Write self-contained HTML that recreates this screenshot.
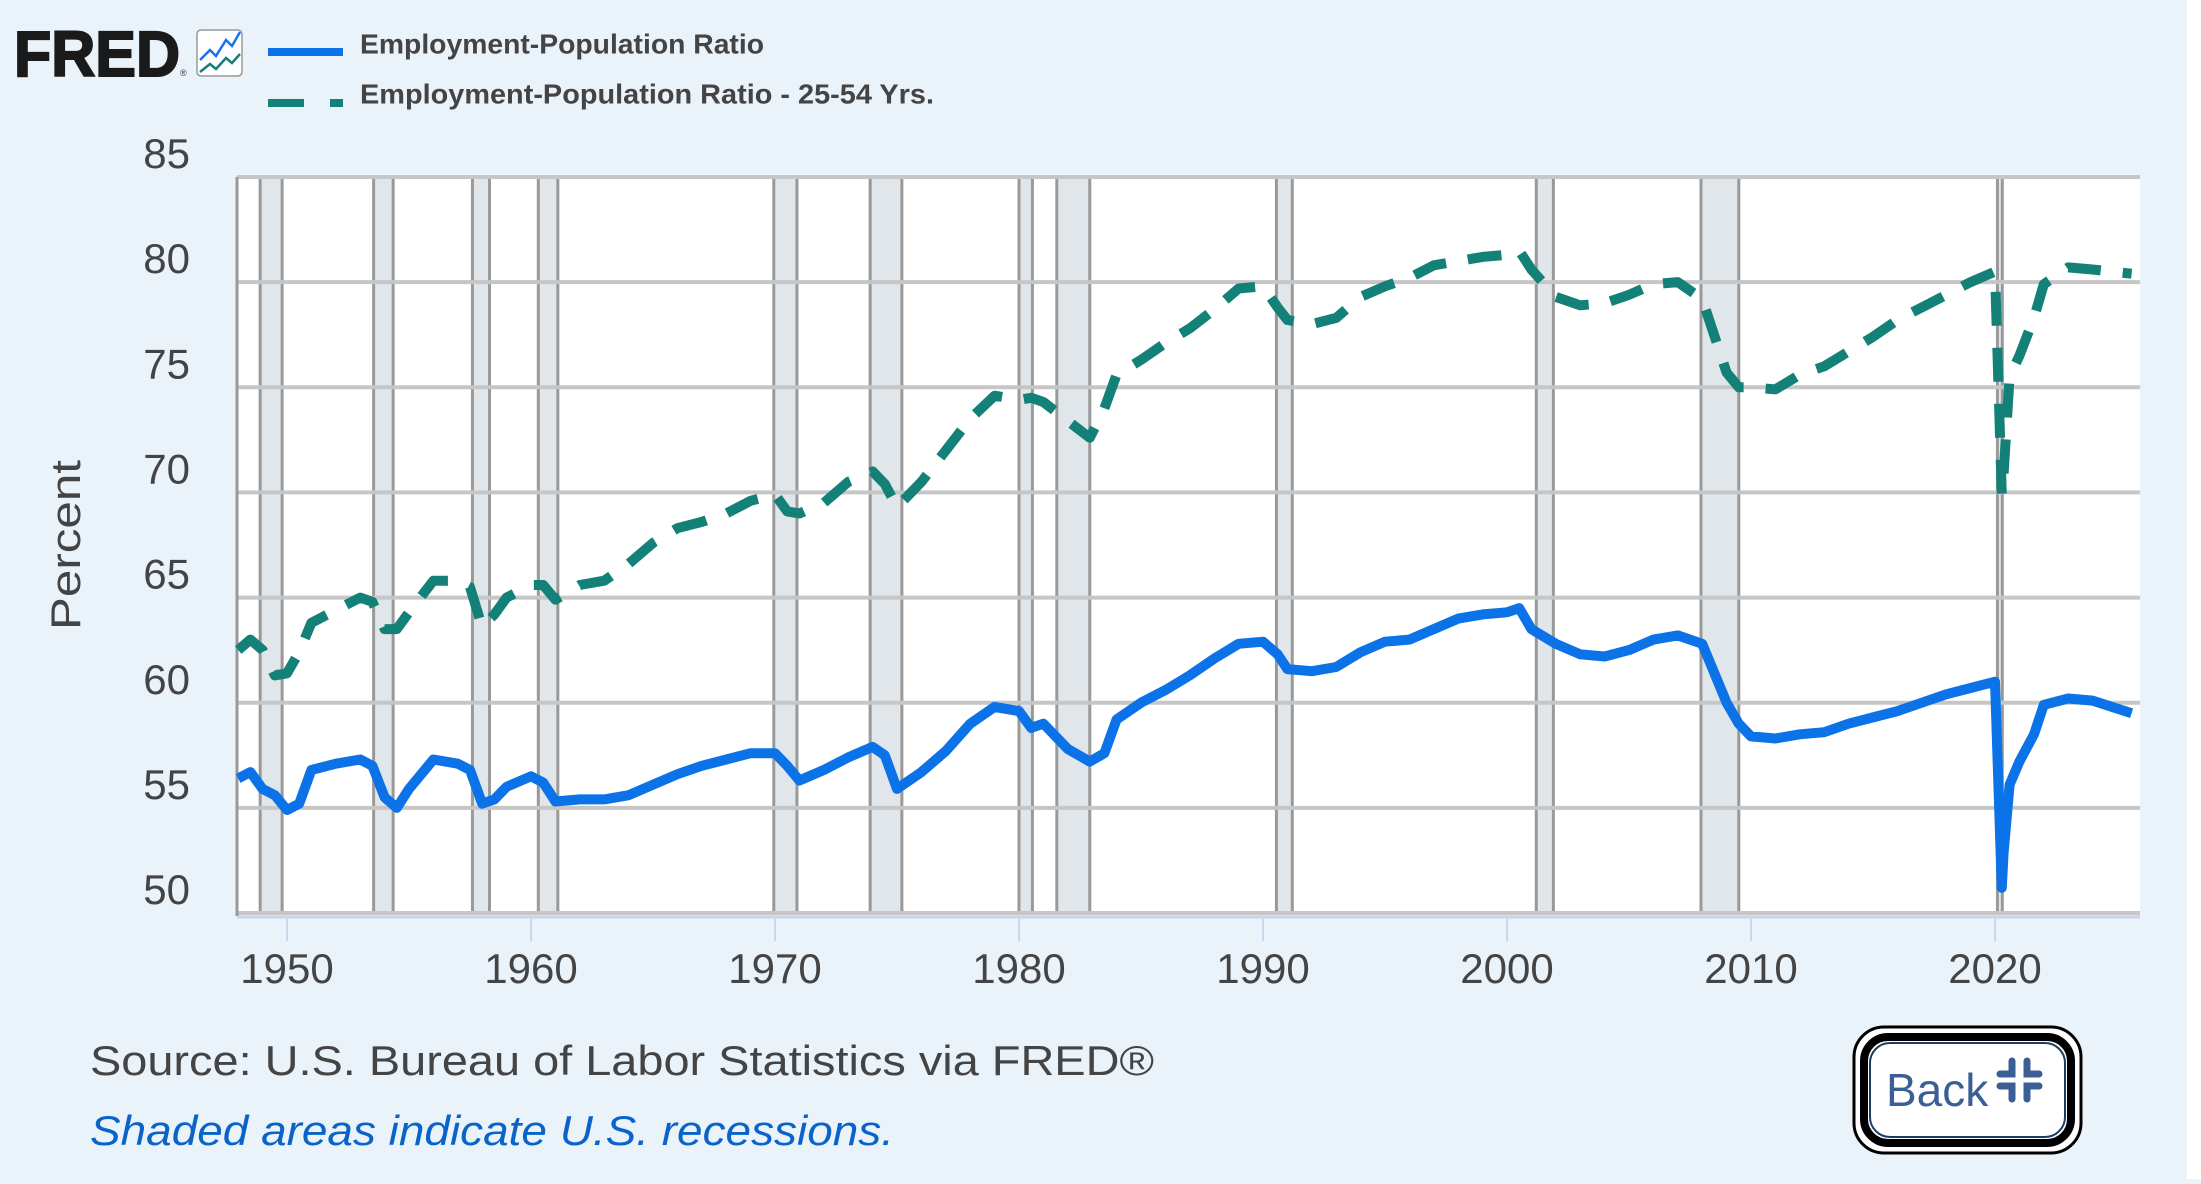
<!DOCTYPE html>
<html><head><meta charset="utf-8"><style>
html,body{margin:0;padding:0;background:#eaf2fa;}
body{width:2201px;height:1179px;position:relative;overflow:hidden;font-family:"Liberation Sans",sans-serif;}
</style></head><body>
<svg id="chart" width="2201" height="1179" viewBox="0 0 2201 1179" xmlns="http://www.w3.org/2000/svg">
<rect x="2187" y="0" width="14" height="1179" fill="#ffffff"/>
<g>
<text x="14" y="76" font-family="Liberation Sans, sans-serif" font-weight="bold" font-size="64" fill="#1a1a1a" textLength="166" lengthAdjust="spacingAndGlyphs" stroke="#1a1a1a" stroke-width="2">FRED</text>
<text x="180" y="76" font-size="9" fill="#333">®</text>
<rect x="197" y="30" width="45" height="46" rx="4" fill="#fff" stroke="#999" stroke-width="1.5"/>
<polyline points="200,60 210,50 216,56 226,40 232,46 240,32" fill="none" stroke="#1a73e8" stroke-width="2.5"/>
<polyline points="200,72 210,64 216,69 226,58 232,63 240,54" fill="none" stroke="#148178" stroke-width="2.5"/>
</g>
<g>
<line x1="268" y1="52" x2="343" y2="52" stroke="#0b72e7" stroke-width="8"/>
<text x="360" y="46" font-size="28" font-weight="bold" fill="#444" dominant-baseline="middle" textLength="404" lengthAdjust="spacingAndGlyphs">Employment-Population Ratio</text>
<line x1="268" y1="103" x2="343" y2="103" stroke="#148178" stroke-width="8" stroke-dasharray="36,26"/>
<text x="360" y="96" font-size="28" font-weight="bold" fill="#444" dominant-baseline="middle" textLength="574" lengthAdjust="spacingAndGlyphs">Employment-Population Ratio - 25-54 Yrs.</text>
</g>
<rect x="237" y="177" width="1903" height="738" fill="#ffffff"/>
<g id="rec"></g><g id="grid"></g><g id="axes"></g><g id="series"></g>
<text transform="translate(80,545) rotate(-90)" text-anchor="middle" font-size="42" fill="#444" textLength="170" lengthAdjust="spacingAndGlyphs">Percent</text>
<text x="90" y="1075" font-size="42" fill="#444" textLength="1064" lengthAdjust="spacingAndGlyphs">Source: U.S. Bureau of Labor Statistics via FRED®</text>
<text x="90" y="1145" font-size="42" font-style="italic" fill="#0a63c9" textLength="804" lengthAdjust="spacingAndGlyphs">Shaded areas indicate U.S. recessions.</text>
<g transform="translate(-12,-6)">
<rect x="1866" y="1033" width="227" height="126" rx="30" fill="#fff" stroke="#000" stroke-width="3"/>
<rect x="1876" y="1043" width="207" height="106" rx="24" fill="#fff" stroke="#000" stroke-width="8"/>
<rect x="1882" y="1049" width="195" height="94" rx="20" fill="none" stroke="#1d3c60" stroke-width="2"/>
<text x="1898" y="1112" font-size="46" fill="#3b5f94">Back</text>
<path d="M2024 1067 v13 h-12 M2039 1067 v13 h12 M2024 1105 v-13 h-12 M2039 1105 v-13 h12" fill="none" stroke="#3b5f94" stroke-width="7" stroke-linecap="round"/>
</g>
</svg>
<script>
const years=[1948,1948.5,1949,1949.5,1950,1950.5,1951,1952,1953,1953.5,1954,1954.5,1955,1956,1957,1957.5,1958,1958.5,1959,1960,1960.5,1961,1962,1963,1964,1965,1966,1967,1968,1969,1970,1970.5,1971,1972,1973,1974,1974.5,1975,1976,1977,1978,1979,1980,1980.5,1981,1982,1982.9,1983.5,1984,1985,1986,1987,1988,1989,1990,1990.6,1991,1992,1993,1994,1995,1996,1997,1998,1999,2000,2000.5,2001,2002,2003,2004,2005,2006,2007,2008,2009,2009.5,2010,2011,2012,2013,2014,2015,2016,2017,2018,2019,2020,2020.28,2020.35,2020.6,2021,2021.6,2022,2023,2024,2025.6];
const epop=[56.4,56.7,55.9,55.6,54.9,55.2,56.8,57.1,57.3,57.0,55.5,55.0,55.9,57.3,57.1,56.8,55.2,55.4,56.0,56.5,56.2,55.3,55.4,55.4,55.6,56.1,56.6,57.0,57.3,57.6,57.6,57.0,56.3,56.8,57.4,57.9,57.5,55.9,56.7,57.7,59.0,59.8,59.6,58.8,59.0,57.8,57.2,57.6,59.2,60.0,60.6,61.3,62.1,62.8,62.9,62.3,61.6,61.5,61.7,62.4,62.9,63.0,63.5,64.0,64.2,64.3,64.5,63.5,62.8,62.3,62.2,62.5,63.0,63.2,62.8,60.0,59.0,58.4,58.3,58.5,58.6,59.0,59.3,59.6,60.0,60.4,60.7,61.0,51.2,52.8,56.1,57.2,58.5,59.9,60.2,60.1,59.5];
const prime=[62.5,63.0,62.5,61.3,61.4,62.4,63.8,64.4,65.0,64.8,63.5,63.5,64.3,65.8,65.8,65.5,63.6,64.2,65.0,65.6,65.6,64.9,65.6,65.8,66.6,67.6,68.3,68.6,69.0,69.6,69.9,69.1,69.0,69.5,70.5,71.0,70.4,69.3,70.5,72.0,73.5,74.6,74.4,74.5,74.3,73.4,72.6,74.0,75.6,76.3,77.1,77.8,78.7,79.7,79.8,78.8,78.2,78.0,78.3,79.3,79.8,80.2,80.8,81.0,81.2,81.3,81.5,80.6,79.3,78.9,79.0,79.4,79.9,80.0,79.2,75.7,75.0,75.0,74.9,75.6,76.0,76.7,77.4,78.2,78.8,79.4,80.0,80.5,69.9,70.8,75.5,76.5,78.3,79.9,80.7,80.6,80.4];
const recStart=[1948.9,1953.55,1957.6,1960.3,1969.95,1973.9,1980.0,1981.55,1990.55,2001.2,2007.95,2020.1];
const recEnd=[1949.8,1954.35,1958.3,1961.1,1970.9,1975.2,1980.55,1982.9,1991.2,2001.9,2009.5,2020.3];
const yTicks=[50,55,60,65,70,75,80,85];
const xTicks=[1950,1960,1970,1980,1990,2000,2010,2020];
const NS="http://www.w3.org/2000/svg";
const X0=237,X1=2140,Y0=177,Y1=913;
const xs=y=>287+(y-1950)*24.4;
const ys=v=>Y0+(85-v)*(Y1-Y0)/35;
function mk(t,a,p){const e=document.createElementNS(NS,t);for(const k in a)e.setAttribute(k,a[k]);p.appendChild(e);return e;}
const rec=document.getElementById('rec'),grid=document.getElementById('grid'),axes=document.getElementById('axes'),ser=document.getElementById('series');
recStart.forEach((s,i)=>{
 const r=mk('rect',{x:xs(s),y:Y0,width:xs(recEnd[i])-xs(s),height:Y1-Y0,fill:'#e1e6ea',stroke:'#999999','stroke-width':3},rec);
 
 
});
yTicks.forEach(v=>{
 const l=mk('line',{x1:X0,x2:X1,y1:ys(v),y2:ys(v),stroke:'#c6c6c6','stroke-width':4},grid);
 
 
 const t=mk('text',{x:190,y:ys(v)-20,'text-anchor':'end','dominant-baseline':'middle','font-size':42,fill:'#444'},axes);
 t.textContent=v;
 
 
});
const ax=mk('line',{x1:X0,x2:X1,y1:Y1+4,y2:Y1+4,stroke:'#c8d3e8','stroke-width':3},axes);


const lx=mk('line',{x1:X0,x2:X0,y1:Y0,y2:Y1+3,stroke:'#999','stroke-width':3},axes);


xTicks.forEach(y=>{
 const tk=mk('line',{x1:xs(y),x2:xs(y),y1:Y1+6,y2:Y1+28,stroke:'#ccd6eb','stroke-width':2},axes);
 
 
 const t=mk('text',{x:xs(y),y:972,'text-anchor':'middle','dominant-baseline':'middle','font-size':42,fill:'#444'},axes);
 t.textContent=y;
 
 
});
function path(vals){return vals.map((v,i)=>(i?'L':'M')+xs(years[i]).toFixed(1)+' '+ys(v).toFixed(1)).join(' ');}
const p2=mk('path',{d:path(prime),fill:'none',stroke:'#148178','stroke-width':10,'stroke-dasharray':'34,22','stroke-linejoin':'round'},ser);


const p1=mk('path',{d:path(epop),fill:'none',stroke:'#0b72e7','stroke-width':10,'stroke-linejoin':'round'},ser);


</script>
</body></html>
